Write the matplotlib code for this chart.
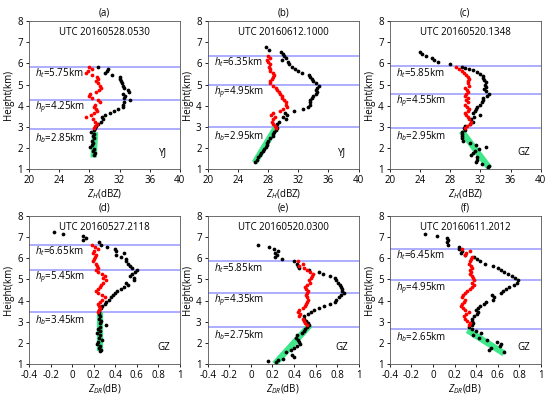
import matplotlib
matplotlib.use('Agg')
import matplotlib.pyplot as plt

plt.rcParams['font.family'] = ['Open Sans', 'DejaVu Sans']
plt.rcParams['font.size'] = 7
plt.rcParams['mathtext.fontset'] = 'custom'
plt.rcParams['mathtext.it'] = 'Open Sans:italic'
plt.rcParams['mathtext.rm'] = 'Open Sans'

# ---- data ----
titles = ['(a)', '(b)', '(c)', '(d)', '(e)', '(f)']
times = ['UTC 20160528.0530', 'UTC 20160612.1000', 'UTC 20160520.1348',
         'UTC 20160527.2118', 'UTC 20160520.0300', 'UTC 20160611.2012']
stations = ['YJ', 'YJ', 'GZ', 'GZ', 'GZ', 'GZ']
h_top = [5.75, 6.35, 5.85, 6.65, 5.85, 6.45]
h_peak = [4.25, 4.95, 4.55, 5.45, 4.35, 4.95]
h_bot = [2.85, 2.95, 2.95, 3.45, 2.75, 2.65]
# where the blue lines are drawn in the picture
line_top = [5.85, 6.37, 5.86, 6.63, 5.85, 6.45]
line_peak = [4.28, 4.98, 4.55, 5.46, 4.36, 4.95]
line_bot = [2.88, 2.97, 2.96, 3.47, 2.77, 2.66]

# (a) ZH
a_black_h = [5.85, 5.75, 5.65, 5.55, 5.45, 5.35, 5.25, 5.15, 5.05, 4.95, 4.85, 4.75, 4.65, 4.55, 4.45,
             4.35, 4.25, 4.15, 4.05, 3.95, 3.85, 3.75, 3.65, 3.55, 3.45, 3.35, 3.25, 3.15, 3.05, 2.95,
             2.85, 2.75, 2.65, 2.55, 2.45, 2.35, 2.25, 2.15, 2.05, 1.95, 1.85, 1.75, 1.65]
a_black_x = [29.2, 30.5, 30.3, 30.1, 31.0, 32.0, 32.1, 32.2, 32.3, 32.4, 32.6, 33.1, 33.3, 32.5, 32.7,
             32.6, 33.4, 32.6, 32.5, 32.4, 31.8, 31.2, 30.7, 30.0, 29.7, 29.8, 29.6, 29.1, 28.9, 28.7,
             28.6, 28.2, 28.6, 28.5, 28.6, 28.4, 28.5, 28.4, 28.1, 28.6, 28.5, 28.7, 28.6]
a_red_h = [5.85, 5.75, 5.65, 5.55, 5.45, 5.35, 5.25, 5.15, 5.05, 4.95, 4.85, 4.75, 4.65, 4.55, 4.45,
           4.35, 4.25, 4.15, 4.05, 3.95, 3.85, 3.75, 3.65, 3.55, 3.45, 3.35, 3.25, 3.15, 3.05, 2.95]
a_red_x = [28.0, 28.3, 27.8, 27.6, 28.3, 29.0, 29.1, 28.9, 29.2, 29.4, 29.5, 29.3, 28.9, 28.1, 28.0,
           28.3, 29.1, 29.4, 28.8, 28.6, 28.9, 29.0, 28.6, 28.2, 27.6, 28.5, 28.8, 29.0, 28.8, 28.6]
a_green_x = [28.55, 28.75]
a_green_h = [1.55, 2.75]

# (b) ZH
b_black_h = [6.75, 6.65, 6.55, 6.45, 6.35, 6.25, 6.15, 6.05, 5.95, 5.85, 5.75, 5.65, 5.55, 5.45, 5.35,
             5.25, 5.15, 5.05, 4.95, 4.85, 4.75, 4.65, 4.55, 4.45, 4.35, 4.25, 4.15, 4.05, 3.95, 3.85,
             3.75, 3.65, 3.55, 3.45, 3.35, 3.25, 3.15, 3.05, 2.95, 2.85, 2.75, 2.65, 2.55, 2.45, 2.35,
             2.25, 2.15, 2.05, 1.95, 1.85, 1.75, 1.65, 1.55, 1.45, 1.35]
b_black_x = [27.7, 28.1, 29.7, 30.0, 30.1, 30.3, 29.9, 30.6, 30.8, 31.1, 31.5, 32.0, 32.5, 33.4, 33.6,
             33.8, 34.0, 34.4, 34.7, 34.5, 34.4, 34.5, 34.3, 34.0, 33.8, 33.6, 33.5, 33.5, 33.3, 32.6,
             31.4, 30.2, 30.5, 30.0, 30.4, 29.4, 29.2, 29.1, 29.2, 29.0, 28.8, 28.7, 28.6, 28.3, 28.0,
             27.9, 27.8, 27.7, 27.4, 27.3, 27.1, 26.9, 26.7, 26.5, 26.3]
b_red_h = [6.35, 6.25, 6.15, 6.05, 5.95, 5.85, 5.75, 5.65, 5.55, 5.45, 5.35, 5.25, 5.15, 5.05, 4.95,
           4.85, 4.75, 4.65, 4.55, 4.45, 4.35, 4.25, 4.15, 4.05, 3.95, 3.85, 3.75, 3.65, 3.55, 3.45,
           3.35, 3.25, 3.15, 3.05, 2.95]
b_red_x = [28.0, 28.3, 27.8, 28.0, 28.2, 28.1, 28.3, 28.2, 28.6, 28.8, 28.6, 28.5, 28.3, 28.2, 28.7,
           29.0, 29.2, 29.4, 29.6, 29.8, 29.9, 30.1, 30.3, 30.4, 30.5, 30.0, 29.6, 28.7, 28.4, 28.9,
           28.6, 28.5, 28.7, 28.9, 29.0]
b_green_x = [26.2, 29.0]
b_green_h = [1.3, 2.95]

# (c) ZH
c_black_h = [6.55, 6.45, 6.35, 6.25, 6.15, 6.05, 5.95, 5.85, 5.8, 5.75, 5.7, 5.6, 5.5, 5.4, 5.3,
             5.2, 5.1, 5.0, 4.9, 4.8, 4.7, 4.55, 4.45, 4.35, 4.25, 4.15, 4.05, 3.95, 3.85, 3.75,
             3.65, 3.55, 3.45, 3.35, 3.25, 3.15, 3.05, 2.95, 2.85, 2.75, 2.65, 2.55, 2.45, 2.35, 2.25,
             2.15, 2.05, 1.95, 1.85, 1.75, 1.65, 1.55, 1.45, 1.35, 1.25, 1.15, 1.1]
c_black_x = [24.0, 24.3, 24.8, 25.6, 25.9, 26.4, 28.0, 29.5, 30.0, 30.5, 31.0, 31.6, 31.9, 32.3, 32.3,
             32.5, 32.7, 32.6, 32.7, 32.5, 32.8, 33.2, 32.9, 32.4, 32.3, 32.2, 32.0, 31.5, 31.4, 31.3,
             31.0, 32.0, 31.1, 30.7, 31.0, 30.6, 30.0, 29.8, 29.9, 29.6, 29.5, 29.6, 29.6, 29.7, 30.6,
             31.4, 32.7, 31.8, 31.3, 31.0, 30.8, 31.6, 31.5, 31.4, 32.2, 33.2, 33.0]
c_red_h = [5.85, 5.75, 5.65, 5.55, 5.45, 5.35, 5.25, 5.15, 5.05, 4.95, 4.85, 4.75, 4.65, 4.55, 4.45,
           4.35, 4.25, 4.15, 4.05, 3.95, 3.85, 3.75, 3.65, 3.55, 3.45, 3.35, 3.25, 3.15, 3.05, 2.95]
c_red_x = [28.8, 29.2, 29.5, 29.8, 30.1, 30.3, 30.5, 30.4, 30.3, 30.5, 30.0, 30.2, 30.4, 30.1, 30.0,
           30.3, 30.1, 30.4, 30.0, 30.2, 30.5, 30.3, 30.0, 30.1, 30.3, 30.5, 30.8, 30.6, 30.2, 29.9]
c_green_x = [29.5, 33.2]
c_green_h = [2.8, 1.05]

# (d) ZDR
d_black_h = [7.25, 7.15, 7.05, 6.95, 6.85, 6.75, 6.65, 6.55, 6.45, 6.35, 6.25, 6.15, 6.05, 5.95, 5.85,
             5.75, 5.65, 5.55, 5.45, 5.35, 5.25, 5.15, 5.05, 4.95, 4.85, 4.75, 4.65, 4.55, 4.45, 4.35,
             4.25, 4.15, 4.05, 3.95, 3.85, 3.75, 3.65, 3.55, 3.45, 3.35, 3.25, 3.15, 3.05, 2.95, 2.85,
             2.75, 2.65, 2.55, 2.45, 2.35, 2.25, 2.15, 2.05, 1.95, 1.85, 1.75, 1.65, 1.6]
d_black_x = [-0.17, -0.09, 0.10, 0.13, 0.10, 0.25, 0.27, 0.32, 0.40, 0.41, 0.48, 0.41, 0.45, 0.50, 0.50,
             0.52, 0.54, 0.56, 0.60, 0.58, 0.56, 0.54, 0.57, 0.57, 0.50, 0.52, 0.48, 0.45, 0.42, 0.40,
             0.38, 0.36, 0.34, 0.31, 0.30, 0.28, 0.27, 0.25, 0.25, 0.25, 0.26, 0.25, 0.27, 0.26, 0.31,
             0.26, 0.24, 0.26, 0.23, 0.26, 0.25, 0.28, 0.24, 0.23, 0.26, 0.25, 0.27, 0.26]
d_red_h = [6.65, 6.55, 6.45, 6.35, 6.25, 6.15, 6.05, 5.95, 5.85, 5.75, 5.65, 5.55, 5.45, 5.35, 5.25,
           5.15, 5.05, 4.95, 4.85, 4.75, 4.65, 4.55, 4.45, 4.35, 4.25, 4.15, 4.05, 3.95, 3.85, 3.75,
           3.65, 3.55, 3.45]
d_red_x = [0.18, 0.21, 0.24, 0.20, 0.19, 0.22, 0.21, 0.20, 0.19, 0.22, 0.23, 0.24, 0.22, 0.24, 0.28,
           0.30, 0.29, 0.31, 0.29, 0.27, 0.26, 0.24, 0.22, 0.24, 0.28, 0.30, 0.28, 0.26, 0.24, 0.25,
           0.26, 0.25, 0.24]
d_green_x = [0.26, 0.26]
d_green_h = [1.6, 3.45]

# (e) ZDR
e_black_h = [6.65, 6.55, 6.45, 6.35, 6.25, 6.15, 6.05, 5.95, 5.85, 5.75, 5.65, 5.55, 5.45, 5.35, 5.25,
             5.15, 5.05, 4.95, 4.85, 4.75, 4.65, 4.55, 4.45, 4.35, 4.25, 4.15, 4.05, 3.95, 3.85, 3.75,
             3.65, 3.55, 3.45, 3.35, 3.25, 3.15, 3.05, 2.95, 2.85, 2.75, 2.65, 2.55, 2.45, 2.35, 2.25,
             2.15, 2.05, 1.95, 1.85, 1.75, 1.65, 1.55, 1.45, 1.35, 1.25, 1.2, 1.15, 1.08]
e_black_x = [0.07, 0.17, 0.21, 0.25, 0.22, 0.24, 0.22, 0.29, 0.40, 0.43, 0.44, 0.45, 0.54, 0.63, 0.67,
             0.73, 0.78, 0.79, 0.81, 0.83, 0.84, 0.85, 0.85, 0.86, 0.84, 0.82, 0.79, 0.78, 0.73, 0.68,
             0.63, 0.59, 0.56, 0.53, 0.49, 0.49, 0.51, 0.53, 0.54, 0.52, 0.50, 0.49, 0.47, 0.43, 0.42,
             0.44, 0.45, 0.46, 0.43, 0.40, 0.37, 0.33, 0.38, 0.40, 0.30, 0.25, 0.16, 0.23]
e_red_h = [5.85, 5.75, 5.65, 5.55, 5.45, 5.35, 5.25, 5.15, 5.05, 4.95, 4.85, 4.75, 4.65, 4.55, 4.45,
           4.35, 4.25, 4.15, 4.05, 3.95, 3.85, 3.75, 3.65, 3.55, 3.45, 3.35, 3.25, 3.15, 3.05, 2.95, 2.85]
e_red_x = [0.44, 0.48, 0.45, 0.49, 0.52, 0.55, 0.58, 0.57, 0.56, 0.54, 0.55, 0.52, 0.50, 0.51, 0.53,
           0.52, 0.51, 0.52, 0.53, 0.52, 0.51, 0.50, 0.48, 0.45, 0.44, 0.46, 0.45, 0.48, 0.49, 0.50, 0.52]
e_green_x = [0.22, 0.55]
e_green_h = [1.0, 2.85]

# (f) ZDR
f_black_h = [7.15, 7.05, 6.95, 6.85, 6.75, 6.65, 6.55, 6.45, 6.35, 6.25, 6.15, 6.05, 5.95, 5.85, 5.75,
             5.65, 5.55, 5.45, 5.35, 5.25, 5.15, 5.05, 4.95, 4.85, 4.75, 4.65, 4.55, 4.45, 4.35, 4.25,
             4.15, 4.05, 3.95, 3.85, 3.75, 3.65, 3.55, 3.45, 3.35, 3.25, 3.15, 3.05, 2.95, 2.85, 2.75,
             2.65, 2.55, 2.45, 2.35, 2.25, 2.15, 2.05, 1.95, 1.85, 1.75, 1.65, 1.55]
f_black_x = [-0.07, 0.04, 0.13, 0.14, 0.13, 0.14, 0.24, 0.24, 0.27, 0.26, 0.30, 0.38, 0.41, 0.44, 0.48,
             0.56, 0.60, 0.63, 0.66, 0.70, 0.73, 0.76, 0.79, 0.78, 0.75, 0.71, 0.68, 0.65, 0.63, 0.55,
             0.57, 0.56, 0.49, 0.47, 0.44, 0.42, 0.40, 0.42, 0.41, 0.38, 0.36, 0.36, 0.37, 0.36, 0.33,
             0.36, 0.40, 0.45, 0.37, 0.43, 0.50, 0.59, 0.63, 0.62, 0.54, 0.52, 0.66]
f_red_h = [6.45, 6.35, 6.25, 6.15, 6.05, 5.95, 5.85, 5.75, 5.65, 5.55, 5.45, 5.35, 5.25, 5.15, 5.05,
           4.95, 4.85, 4.75, 4.65, 4.55, 4.45, 4.35, 4.25, 4.15, 4.05, 3.95, 3.85, 3.75, 3.65, 3.55,
           3.45, 3.35, 3.25, 3.15, 3.05, 2.95, 2.85]
f_red_x = [0.27, 0.34, 0.31, 0.30, 0.36, 0.35, 0.34, 0.33, 0.35, 0.36, 0.34, 0.35, 0.34, 0.36, 0.37,
           0.38, 0.36, 0.38, 0.36, 0.34, 0.32, 0.30, 0.28, 0.27, 0.30, 0.29, 0.27, 0.26, 0.28, 0.30,
           0.33, 0.31, 0.29, 0.30, 0.32, 0.34, 0.33]
f_green_x = [0.32, 0.66]
f_green_h = [2.6, 1.5]

black = [(a_black_x, a_black_h), (b_black_x, b_black_h), (c_black_x, c_black_h),
         (d_black_x, d_black_h), (e_black_x, e_black_h), (f_black_x, f_black_h)]
red = [(a_red_x, a_red_h), (b_red_x, b_red_h), (c_red_x, c_red_h),
       (d_red_x, d_red_h), (e_red_x, e_red_h), (f_red_x, f_red_h)]
green = [(a_green_x, a_green_h), (b_green_x, b_green_h), (c_green_x, c_green_h),
         (d_green_x, d_green_h), (e_green_x, e_green_h), (f_green_x, f_green_h)]

fig = plt.figure(figsize=(5.5, 3.97), dpi=100)

lefts = [0.053, 0.378, 0.709]
bottoms = [0.574, 0.083]
w, h = 0.274, 0.373

for i in range(6):
    ax = fig.add_axes([lefts[i % 3], bottoms[i // 3], w, h])
    for lev in (line_top[i], line_peak[i], line_bot[i]):
        ax.axhline(lev, color='#9fa0ff', lw=1.2, zorder=1)
    ax.plot(green[i][0], green[i][1], color='#3ee88a', lw=4.5, solid_capstyle='butt', zorder=2)
    ax.plot(black[i][0], black[i][1], 'o', color='black', ms=2.7, mew=0, zorder=3)
    ax.plot(red[i][0], red[i][1], 'o', color='red', ms=2.7, mew=0, zorder=4)

    ax.set_ylim(1, 8)
    ax.set_yticks(range(1, 9))
    if i < 3:
        ax.set_xlim(20, 40)
        ax.set_xticks([20, 24, 28, 32, 36, 40])
        ax.set_xlabel('$Z_H$(dBZ)', labelpad=1)
    else:
        ax.set_xlim(-0.4, 1)
        ax.set_xticks([-0.4, -0.2, 0, 0.2, 0.4, 0.6, 0.8, 1])
        ax.set_xticklabels(['-0.4', '-0.2', '0', '0.2', '0.4', '0.6', '0.8', '1'])
        ax.set_xlabel('$Z_{DR}$(dB)', labelpad=1)
    ax.set_ylabel('Height(km)', labelpad=2)
    ax.tick_params(length=2.5, width=0.6, pad=2, labelsize=7)
    for s in ax.spines.values():
        s.set_linewidth(0.6)
        s.set_color('#555555')

    ax.set_title(titles[i], fontsize=7, pad=4)
    ax.text(0.5, 0.925, times[i], transform=ax.transAxes, ha='center', va='center', fontsize=7)
    ax.text(0.89, 0.11, stations[i], transform=ax.transAxes, ha='center', va='center', fontsize=7)
    ax.text(0.04, line_top[i] - 0.3, '$h_t$=%.2fkm' % h_top[i], ha='left', va='center',
            fontsize=7, transform=ax.get_yaxis_transform())
    ax.text(0.04, line_peak[i] - 0.36, '$h_p$=%.2fkm' % h_peak[i], ha='left', va='center',
            fontsize=7, transform=ax.get_yaxis_transform())
    ax.text(0.04, line_bot[i] - 0.4, '$h_b$=%.2fkm' % h_bot[i], ha='left', va='center',
            fontsize=7, transform=ax.get_yaxis_transform())

fig.savefig('out.png', dpi=100)
